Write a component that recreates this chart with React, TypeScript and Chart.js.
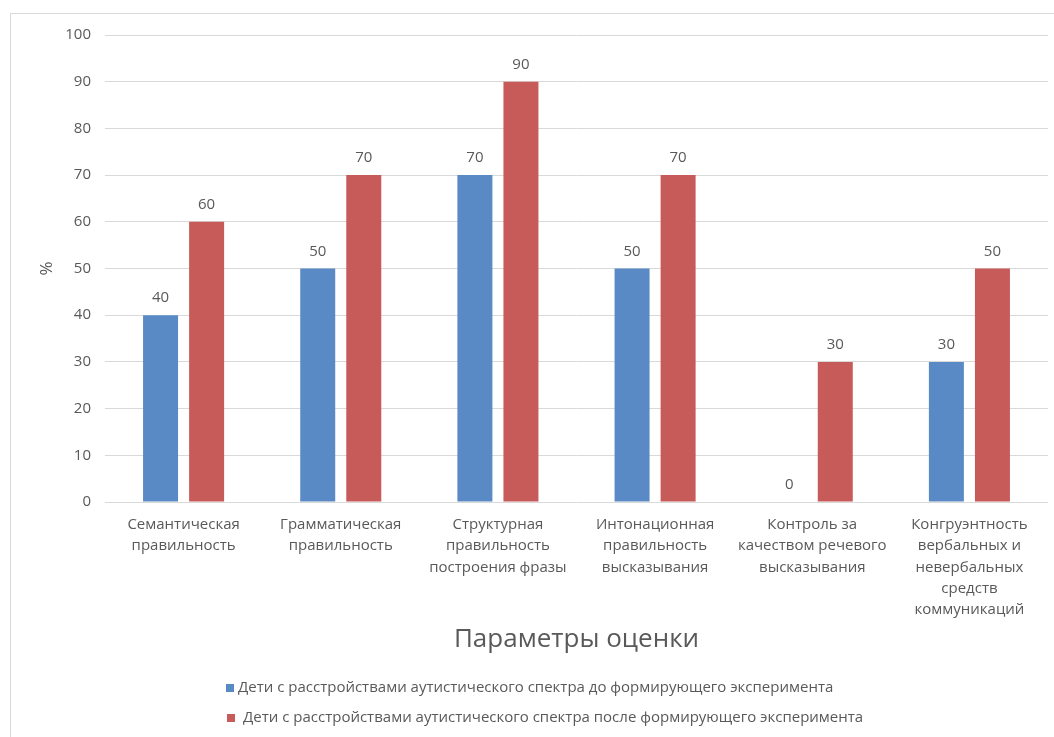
import React, { useEffect, useRef } from "react";
import { Chart, registerables } from "chart.js";

Chart.register(...registerables);

const categories: string[][] = [
  ["Семантическая", "правильность"],
  ["Грамматическая", "правильность"],
  ["Структурная", "правильность", "построения фразы"],
  ["Интонационная", "правильность", "высказывания"],
  ["Контроль за", "качеством речевого", "высказывания"],
  ["Конгруэнтность", "вербальных и", "невербальных", "средств", "коммуникаций"],
];

const seriesNames = [
  "Дети с расстройствами аутистического спектра до формирующего эксперимента",
  "Дети с расстройствами аутистического спектра после формирующего эксперимента",
];

const beforeValues = [40, 50, 70, 50, 0, 30];
const afterValues = [60, 70, 90, 70, 30, 50];

const yMin = 0;
const yMax = 100;
const yStep = 10;

const yTitle = "%";
const xTitle = "Параметры оценки";

const BLUE = "#5A8AC6";
const RED = "#C75B59";
const TEXT = "#595959";
const GRID = "#D9D9D9";
const FONT = "'Open Sans', 'Noto Sans', sans-serif";

const dataLabelPlugin = {
  id: "dataLabels",
  afterDatasetsDraw(chart: any) {
    const ctx = chart.ctx;
    ctx.save();
    ctx.font = `15px ${FONT}`;
    ctx.fillStyle = TEXT;
    ctx.textAlign = "center";
    ctx.textBaseline = "middle";
    chart.data.datasets.forEach((ds: any, di: number) => {
      const meta = chart.getDatasetMeta(di);
      meta.data.forEach((bar: any, i: number) => {
        ctx.fillText(String(ds.data[i]), bar.x, bar.y - 17);
      });
    });
    ctx.restore();
  },
};

const legendPlugin = {
  id: "customLegend",
  afterDraw(chart: any) {
    const ctx = chart.ctx;
    ctx.save();
    ctx.font = `15px ${FONT}`;
    ctx.textBaseline = "middle";
    ctx.textAlign = "left";
    const rows = [
      { bx: 226, y: 688, tx: 238 },
      { bx: 227, y: 718, tx: 243 },
    ];
    chart.data.datasets.forEach((ds: any, i: number) => {
      const r = rows[i];
      ctx.fillStyle = ds.backgroundColor;
      ctx.fillRect(r.bx, r.y - 4, 8, 8);
      ctx.fillStyle = TEXT;
      ctx.fillText(ds.label, r.tx, r.y);
    });
    ctx.restore();
  },
};

export default function App() {
  const canvasRef = useRef<HTMLCanvasElement | null>(null);

  useEffect(() => {
    if (!canvasRef.current) return;
    const chart = new Chart(canvasRef.current, {
      type: "bar",
      data: {
        labels: categories,
        datasets: [
          {
            label: seriesNames[0],
            data: beforeValues,
            backgroundColor: BLUE,
            categoryPercentage: 0.586,
            barPercentage: 0.76,
          },
          {
            label: seriesNames[1],
            data: afterValues,
            backgroundColor: RED,
            categoryPercentage: 0.586,
            barPercentage: 0.76,
          },
        ],
      },
      options: {
        animation: false,
        responsive: true,
        maintainAspectRatio: false,
        layout: { padding: { left: 30, right: 6, top: 35, bottom: 86 } },
        plugins: {
          legend: { display: false },
          tooltip: { enabled: false },
        },
        scales: {
          x: {
            grid: { display: false, drawTicks: false },
            border: { display: false },
            ticks: {
              color: TEXT,
              font: { family: FONT, size: 15, lineHeight: 1.42 },
              maxRotation: 0,
              minRotation: 0,
              autoSkip: false,
              padding: 12,
            },
            title: {
              display: true,
              text: xTitle,
              color: TEXT,
              font: { family: FONT, size: 26, lineHeight: 1.2 },
              padding: { top: 0, bottom: -4 },
            },
            afterFit: (s: any) => {
              s.height = 149;
            },
          },
          y: {
            min: yMin,
            max: yMax,
            ticks: {
              stepSize: yStep,
              color: TEXT,
              font: { family: FONT, size: 15 },
              padding: 14,
            },
            grid: { color: GRID, lineWidth: 1, drawTicks: false },
            border: { display: false },
            title: {
              display: true,
              text: yTitle,
              color: TEXT,
              font: { family: FONT, size: 17, lineHeight: 1.2 },
              padding: { top: 7, bottom: 0 },
            },
            afterFit: (s: any) => {
              s.width = 75;
            },
          },
        },
      },
      plugins: [dataLabelPlugin, legendPlugin],
    });
    return () => chart.destroy();
  }, []);

  return (
    <div
      style={{
        position: "fixed",
        left: 0,
        top: 0,
        width: 1054,
        height: 737,
        overflow: "hidden",
        background: "#ffffff",
      }}
    >
      <div
        style={{
          position: "absolute",
          left: 10,
          top: 13,
          width: 1100,
          height: 800,
          border: "1px solid #D9D9D9",
          boxSizing: "border-box",
        }}
      />
      <div style={{ position: "absolute", left: 0, top: 0, width: 1054, height: 737 }}>
        <canvas ref={canvasRef} />
      </div>
    </div>
  );
}
